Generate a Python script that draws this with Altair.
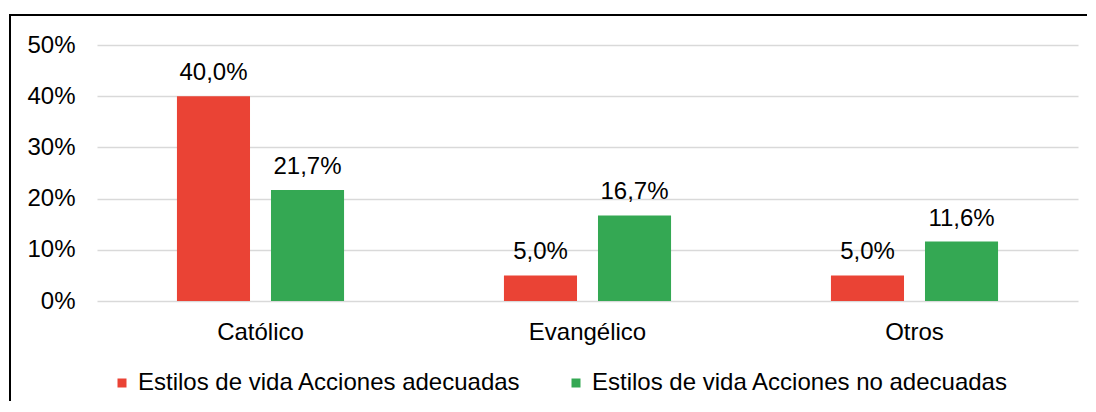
import altair as alt
import pandas as pd

categories = ["Católico", "Evangélico", "Otros"]
series = ["Estilos de vida Acciones adecuadas", "Estilos de vida Acciones no adecuadas"]
adecuadas = [40.0, 5.0, 5.0]
no_adecuadas = [21.7, 16.7, 11.6]
y_ticks = [0, 10, 20, 30, 40, 50]
colors = ["#EA4335", "#34A853"]

rows = []
for i, c in enumerate(categories):
    rows.append({"cat": c, "serie": series[0], "order": 0, "v": adecuadas[i]})
    rows.append({"cat": c, "serie": series[1], "order": 1, "v": no_adecuadas[i]})
df = pd.DataFrame(rows)

FONT = "Liberation Sans"
FS = 24

x_enc = alt.X("cat:N", sort=categories, title=None,
              scale=alt.Scale(paddingInner=0.489, paddingOuter=0.2445),
              axis=alt.Axis(labelAngle=0, domain=False, ticks=False, labelPadding=19,
                            labelFontSize=FS, labelFont=FONT, labelColor="black", grid=False))
xoff = alt.XOffset("serie:N", sort=series, scale=alt.Scale(paddingInner=0.223, paddingOuter=0))
y_enc = alt.Y("v:Q", title=None,
              scale=alt.Scale(domain=[0, 50], nice=False),
              axis=alt.Axis(values=y_ticks, labelExpr="datum.value + '%'", domain=False, ticks=False,
                            labelPadding=22, labelFontSize=FS, labelFont=FONT, labelColor="black",
                            grid=True, gridColor="#D9D9D9", gridWidth=1.5))

base = alt.Chart(df)

bars = base.mark_bar().encode(
    x=x_enc, xOffset=xoff, y=y_enc,
    color=alt.Color("serie:N", sort=series, title=None,
                    scale=alt.Scale(domain=series, range=colors),
                    legend=alt.Legend(orient="none", direction="horizontal", legendX=13, legendY=326,
                                      symbolType="square", symbolSize=81, symbolStrokeWidth=0,
                                      labelFontSize=FS, labelFont=FONT, labelColor="black",
                                      labelOffset=4, columnPadding=43, padding=0, labelLimit=0)),
)

labels = base.transform_calculate(
    lab="replace(format(datum.v, '.1f'), '.', ',') + '%'"
).mark_text(baseline="alphabetic", dy=-16, fontSize=FS, font=FONT, color="black").encode(
    x=x_enc, xOffset=xoff, y=y_enc, text="lab:N",
)

frame = alt.Chart(alt.Data(values=[{}])).mark_rect(
    fillOpacity=0, strokeOpacity=1, stroke="black", strokeWidth=2, clip=False
).encode(x=alt.value(-87), x2=alt.value(1100), y=alt.value(-30), y2=alt.value(400))

chart = alt.layer(bars, labels, frame).properties(
    width=981, height=256,
    autosize=alt.AutoSizeParams(type="none"),
    padding={"left": 89, "top": 37, "right": 9, "bottom": 100},
    view=alt.ViewBackground(stroke="transparent", strokeWidth=0),
).configure_view(stroke="transparent", strokeWidth=0).configure(font=FONT)

chart.save("out.html", embed_options={"renderer": "svg", "actions": False})
